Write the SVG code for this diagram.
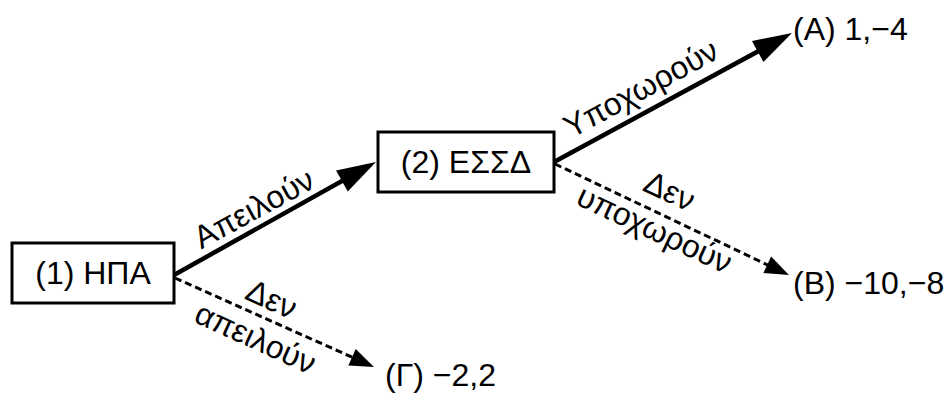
<svg xmlns="http://www.w3.org/2000/svg" width="950" height="393" viewBox="0 0 950 393">
  <style>
    text { font-family: "Liberation Sans", Arial, "DejaVu Sans", sans-serif; font-size: 32px; fill: #000; }
    .box { fill: #fff; stroke: #000; stroke-width: 3; }
    .solid { fill: none; stroke: #000; stroke-width: 4.5; }
    .dashed { fill: none; stroke: #000; stroke-width: 3; stroke-dasharray: 7 4; }
    .mid { text-anchor: middle; }
  </style>
  <defs>
    <marker id="headSolid" markerUnits="userSpaceOnUse" markerWidth="40" markerHeight="26" refX="19" refY="12" orient="auto" overflow="visible">
      <path d="M0,0 L39,12 L0,24 z" fill="#000"/>
    </marker>
    <marker id="headDashed" markerUnits="userSpaceOnUse" markerWidth="26" markerHeight="20" refX="12" refY="9" orient="auto" overflow="visible">
      <path d="M0,0 L24,9 L0,18 z" fill="#000"/>
    </marker>
  </defs>
  <rect width="950" height="393" fill="#fff"/>

  <!-- connectors -->
  <g id="connectors">
    <line class="solid" x1="174" y1="275" x2="358.5" y2="171.8" marker-end="url(#headSolid)"/>
    <line class="solid" x1="554" y1="162" x2="774.4" y2="42.5" marker-end="url(#headSolid)"/>
    <line class="dashed" x1="555" y1="164" x2="778.1" y2="269.9" marker-end="url(#headDashed)"/>
    <line class="dashed" x1="175" y1="278" x2="363" y2="362.1" marker-end="url(#headDashed)"/>

    <text class="mid" transform="translate(259,218) rotate(-28.5)">Απειλούν</text>
    <text class="mid" transform="translate(646,98) rotate(-28.5)">Υποχωρούν</text>
    <text class="mid" transform="translate(665,201) rotate(25)">Δεν</text>
    <text class="mid" transform="translate(650,239) rotate(25)">υποχωρούν</text>
    <text class="mid" transform="translate(267,309) rotate(24.6)">Δεν</text>
    <text class="mid" transform="translate(251,348) rotate(24.6)">απειλούν</text>
  </g>

  <!-- decision nodes -->
  <g id="node-usa">
    <rect class="box" x="12" y="243" width="162" height="60"/>
    <text class="mid" x="93" y="284">(1) ΗΠΑ</text>
  </g>
  <g id="node-ussr">
    <rect class="box" x="378" y="132" width="176" height="60"/>
    <text class="mid" x="466" y="173">(2) ΕΣΣΔ</text>
  </g>

  <!-- outcomes -->
  <g id="outcome-a">
    <text x="793" y="40">(Α) 1,−4</text>
  </g>
  <g id="outcome-b">
    <text x="793" y="294">(Β) −10,−8</text>
  </g>
  <g id="outcome-c">
    <text x="385" y="386">(Γ) −2,2</text>
  </g>
</svg>
